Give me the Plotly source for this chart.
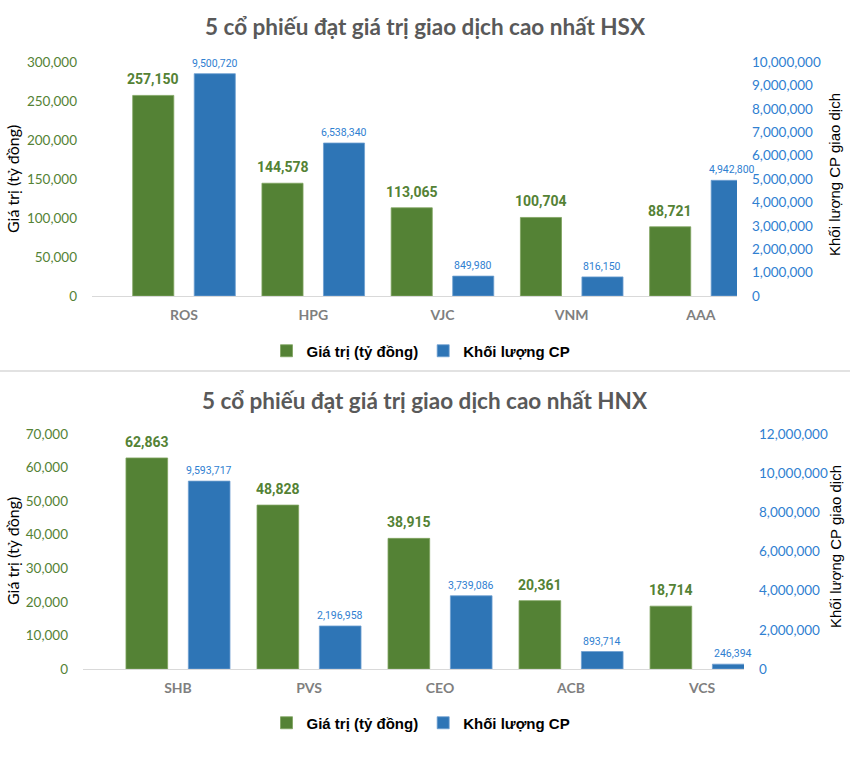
import plotly.graph_objects as go

W, H = 850, 771

# ---------------- data ----------------
hsx_codes = ["ROS", "HPG", "VJC", "VNM", "AAA"]
hsx_value = [257150, 144578, 113065, 100704, 88721]          # Giá trị (tỷ đồng)
hsx_volume = [9500720, 6538340, 849980, 816150, 4942800]     # Khối lượng CP

hnx_codes = ["SHB", "PVS", "CEO", "ACB", "VCS"]
hnx_value = [62863, 48828, 38915, 20361, 18714]
hnx_volume = [9593717, 2196958, 3739086, 893714, 246394]

title_hsx = "5 cổ phiếu đạt giá trị giao dịch cao nhất HSX"
title_hnx = "5 cổ phiếu đạt giá trị giao dịch cao nhất HNX"
name_value = "Giá trị (tỷ đồng)"
name_volume = "Khối lượng CP"
ytitle_left = "Giá trị (tỷ đồng)"
ytitle_right = "Khối lượng CP giao dịch"

# ---------------- styles ----------------
GREEN = "#548235"
BLUE = "#2E75B6"
BLUE_TXT = "#2F80D1"
GRAY_TITLE = "#595959"
GRAY_CAT = "#7F7F7F"
CALIBRI = "Lato, Carlito, Calibri, sans-serif"
NARROW = "Roboto, 'Arial Narrow', sans-serif"
ARIAL = "'Liberation Sans', Arial, sans-serif"

def fx(px):
    return px / W

def fy(py):
    return 1 - py / H

BW = 0.318
OFF_G = -0.397
OFF_B = 0.079

def fmt(v):
    return f"{v:,}"

fig = go.Figure()
ann = []

def add_pair(codes, vals, vols, xa, ya_l, ya_r, leg, slot_px):
    fig.add_trace(go.Bar(
        x=codes, y=vals, name=name_value, xaxis=xa, yaxis=ya_l, legend=leg,
        marker=dict(color=GREEN, line=dict(color="#7FA35F", width=0.8)),
        width=BW, offset=OFF_G, cliponaxis=False,
    ))
    fig.add_trace(go.Bar(
        x=codes, y=vols, name=name_volume, xaxis=xa, yaxis=ya_r, legend=leg,
        marker=dict(color=BLUE, line=dict(color="#6FA0D0", width=0.8)),
        width=BW, offset=OFF_B, cliponaxis=False,
    ))
    # data labels, anchored to each bar through the axes
    for c, v in zip(codes, vals):
        ann.append(dict(x=c, y=v, xref=xa, yref=ya_l, text=fmt(v), showarrow=False,
                        xanchor="center", yanchor="bottom", xshift=-slot_px, yshift=6,
                        font=dict(family=NARROW, size=14, color=GREEN, weight="bold")))
    for c, v in zip(codes, vols):
        ann.append(dict(x=c, y=v, xref=xa, yref=ya_r, text=fmt(v), showarrow=False,
                        xanchor="center", yanchor="bottom", xshift=slot_px, yshift=2,
                        font=dict(family=NARROW, size=10.5, color=BLUE_TXT)))

add_pair(hsx_codes, hsx_value, hsx_volume, "x", "y", "y2", "legend", 30.7)
add_pair(hnx_codes, hnx_value, hnx_volume, "x2", "y3", "y4", "legend2", 31.2)

xcommon = dict(showgrid=False, showline=True, linecolor="#D9D9D9", linewidth=1.3,
               ticks="", ticklabelstandoff=6, zeroline=False, automargin=False,
               tickfont=dict(family=CALIBRI, size=14, color=GRAY_CAT, weight="bold"))
ycommon = dict(showgrid=False, showline=False, zeroline=False, ticks="", automargin=False,
               tickformat=",", ticklabelstandoff=14)

top_dom = [fy(296), fy(62)]
bot_dom = [fy(669), fy(434)]

fig.update_layout(
    width=W, height=H, margin=dict(l=0, r=0, t=0, b=0, autoexpand=False),
    paper_bgcolor="white", plot_bgcolor="white",
    xaxis=dict(domain=[fx(92), fx(737)], anchor="y", range=[-0.712, 4.279], **xcommon),
    yaxis=dict(domain=top_dom, range=[0, 300000], dtick=50000, anchor="x",
               tickfont=dict(family=CALIBRI, size=13.5, color=GREEN), **ycommon),
    yaxis2=dict(domain=top_dom, range=[0, 10000000], dtick=1000000, anchor="x",
                overlaying="y", side="right",
                tickfont=dict(family=CALIBRI, size=13.5, color=BLUE_TXT), **ycommon),
    xaxis2=dict(domain=[fx(83), fx(744)], anchor="y3", range=[-0.725, 4.32], **xcommon),
    yaxis3=dict(domain=bot_dom, range=[0, 70000], dtick=10000, anchor="x2",
                tickfont=dict(family=CALIBRI, size=13.5, color=GREEN), **ycommon),
    yaxis4=dict(domain=bot_dom, range=[0, 12000000], dtick=2000000, anchor="x2",
                overlaying="y3", side="right",
                tickfont=dict(family=CALIBRI, size=13.5, color=BLUE_TXT), **ycommon),
    legend=dict(orientation="h", x=fx(421), xanchor="center", y=fy(351), yanchor="middle",
                font=dict(family=ARIAL, size=15, color="black", weight="bold"),
                itemwidth=30, tracegroupgap=0),
    legend2=dict(orientation="h", x=fx(421), xanchor="center", y=fy(723), yanchor="middle",
                 font=dict(family=ARIAL, size=15, color="black", weight="bold"),
                 itemwidth=30, tracegroupgap=0),
    showlegend=True,
)

for title, ty in [(title_hsx, 27), (title_hnx, 400)]:
    ann.append(dict(text=title, x=0.5, xref="paper", y=fy(ty), yref="paper",
                    xanchor="center", yanchor="middle", showarrow=False,
                    font=dict(family=CALIBRI, size=22.5, color=GRAY_TITLE, weight="bold")))
for cy_l, cy_r in [(179, 175), (551, 547)]:
    ann.append(dict(text=ytitle_left, x=fx(12), xref="paper", y=fy(cy_l), yref="paper",
                    xanchor="center", yanchor="middle", textangle=-90, showarrow=False,
                    font=dict(family=CALIBRI, size=16, color="black")))
    ann.append(dict(text=ytitle_right, x=fx(835), xref="paper", y=fy(cy_r), yref="paper",
                    xanchor="center", yanchor="middle", textangle=-90, showarrow=False,
                    font=dict(family=ARIAL, size=15, color="black")))
fig.update_layout(annotations=ann)

fig.add_shape(type="line", xref="paper", yref="paper", x0=0, x1=1, y0=fy(371), y1=fy(371),
              line=dict(color="#D9D9D9", width=1.5))

post = (
    "document.body.style.margin='0';document.body.style.padding='0';"
    "document.body.style.overflow='hidden';"
    "document.documentElement.style.overflow='hidden';"
)
fig.write_html("out.html", config={"displayModeBar": False}, post_script=post)
